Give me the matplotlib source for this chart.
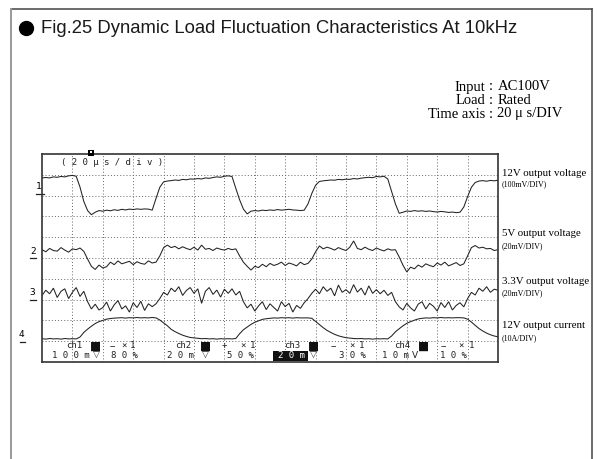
import matplotlib
matplotlib.use("Agg")
import matplotlib.pyplot as plt
from matplotlib.patches import Rectangle
from matplotlib.lines import Line2D
from matplotlib import font_manager as fm
from matplotlib.transforms import blended_transform_factory

# ---------------- data ----------------
title = "Fig.25 Dynamic Load Fluctuation Characteristics At 10kHz"
info_keys = ["Input", "Load", "Time axis"]
info_values = ["AC100V", "Rated", "20 μ s/DIV"]
channel_names = ["12V output voltage", "5V output voltage",
                 "3.3V output voltage", "12V output current"]
channel_scales = ["(100mV/DIV)", "(20mV/DIV)", "(20mV/DIV)", "(10A/DIV)"]
channel_ids = ["1", "2", "3", "4"]
channel_ref_div = [8.1, 5.0, 3.0, 0.98]      # ground markers (screen div)
time_per_div = "( 2 0 μ s / d i v )"

status_ch = ["ch1", "ch2", "ch3", "ch4"]
status_sign = ["−", "+", "−", "−"]
status_probe = ["×", "×", "×", "×"]
status_probe_n = ["1", "1", "1", "1"]
status_volt = ["1 0 0 m", "2 0 m", "2 0 m", "1 0 m"]
status_coupling = ["▽", "▽", "▽", "V"]
status_pos = ["8 0 %", "5 0 %", "3 0 %", "1 0 %"]

# time in microseconds (20 us / div, 15 div)
time_us = [
    0, 2.5, 5, 7.5, 10, 12.5, 15, 17.5, 20, 22.5,
    25, 27.5, 30, 32.5, 35, 37.5, 40, 42.5, 45, 47.5,
    50, 52.5, 55, 57.5, 60, 62.5, 65, 67.5, 70, 72.5,
    75, 77.5, 80, 82.5, 85, 87.5, 90, 92.5, 95, 97.5,
    100, 102.5, 105, 107.5, 110, 112.5, 115, 117.5, 120, 122.5,
    125, 127.5, 130, 132.5, 135, 137.5, 140, 142.5, 145, 147.5,
    150, 152.5, 155, 157.5, 160, 162.5, 165, 167.5, 170, 172.5,
    175, 177.5, 180, 182.5, 185, 187.5, 190, 192.5, 195, 197.5,
    200, 202.5, 205, 207.5, 210, 212.5, 215, 217.5, 220, 222.5,
    225, 227.5, 230, 232.5, 235, 237.5, 240, 242.5, 245, 247.5,
    250, 252.5, 255, 257.5, 260, 262.5, 265, 267.5, 270, 272.5,
    275, 277.5, 280, 282.5, 285, 287.5, 290, 292.5, 295, 297.5,
    300]

# trace positions in screen divisions (0 = bottom, 10 = top)
ch1_12v = [
    8.85, 8.87, 8.85, 8.90, 8.88, 8.92, 8.90, 8.95, 8.97, 8.93,
    8.41, 7.72, 7.28, 7.08, 7.20, 7.28, 7.25, 7.30, 7.27, 7.32,
    7.29, 7.34, 7.31, 7.35, 7.33, 7.36, 7.34, 7.36, 7.35, 7.30,
    7.86, 8.40, 8.66, 8.70, 8.72, 8.75, 8.73, 8.78, 8.76, 8.80,
    8.79, 8.82, 8.80, 8.85, 8.83, 8.87, 8.90, 8.88, 8.93, 8.95,
    8.92, 8.35, 7.80, 7.35, 7.12, 7.25, 7.28, 7.26, 7.30, 7.28,
    7.31, 7.29, 7.33, 7.30, 7.32, 7.34, 7.31, 7.30, 7.28, 7.30,
    7.60, 8.10, 8.50, 8.68, 8.71, 8.73, 8.75, 8.74, 8.78, 8.76,
    8.79, 8.78, 8.82, 8.80, 8.84, 8.86, 8.88, 8.86, 8.92, 8.90,
    8.93, 8.80, 8.20, 7.60, 7.15, 7.20, 7.26, 7.24, 7.28, 7.25,
    7.27, 7.24, 7.26, 7.23, 7.21, 7.24, 7.22, 7.19, 7.21, 7.18,
    7.20, 7.45, 7.95, 8.40, 8.63, 8.70, 8.72, 8.69, 8.73, 8.71,
    8.74]

ch2_5v = [
    5.40, 5.30, 5.46, 5.36, 5.33, 5.50, 5.38, 5.28, 5.44, 5.40,
    5.48, 5.32, 4.95, 4.60, 4.45, 4.66, 4.52, 4.58, 4.80, 4.68,
    4.86, 4.72, 4.78, 4.84, 4.68, 4.82, 4.74, 4.70, 4.86, 4.76,
    4.80, 5.10, 5.50, 5.62, 5.50, 5.56, 5.44, 5.54, 5.46, 5.40,
    5.52, 5.38, 5.62, 5.42, 5.46, 5.36, 5.48, 5.42, 5.38, 5.46,
    5.40, 5.44, 5.10, 4.80, 4.60, 4.42, 4.60, 4.54, 4.70, 4.58,
    4.74, 4.64, 4.70, 4.80, 4.64, 4.76, 4.70, 4.62, 4.80, 4.68,
    4.74, 4.95, 5.30, 5.58, 5.44, 5.52, 5.46, 5.38, 5.50, 5.42,
    5.36, 5.52, 5.82, 5.46, 5.40, 5.52, 5.42, 5.36, 5.48, 5.40,
    5.34, 5.44, 5.38, 5.40, 5.05, 4.65, 4.33, 4.56, 4.48, 4.66,
    4.56, 4.72, 4.64, 4.58, 4.76, 4.66, 4.80, 4.62, 4.70, 4.78,
    4.64, 4.72, 5.10, 5.50, 5.60, 5.48, 5.52, 5.44, 5.46, 5.36,
    5.40]

ch3_3v3 = [
    3.20, 3.45, 3.28, 3.55, 3.10, 3.40, 3.52, 3.05, 3.35, 3.58,
    3.15, 3.40, 2.90, 2.55, 2.78, 2.50, 2.62, 2.88, 2.45, 2.75,
    2.95, 2.55, 2.70, 2.40, 2.85, 2.62, 2.92, 2.48, 2.80, 2.66,
    2.80, 3.05, 3.35, 3.22, 3.55, 3.38, 3.62, 3.20, 3.44, 3.58,
    3.30, 3.52, 2.82, 3.40, 3.58, 3.25, 3.46, 3.12, 3.50, 3.30,
    3.52, 3.22, 3.40, 2.90, 2.60, 2.78, 2.45, 2.70, 2.90, 2.52,
    2.80, 2.62, 2.45, 2.90, 2.66, 2.82, 2.40, 2.72, 2.58, 2.85,
    3.05, 3.30, 3.50, 3.28, 3.62, 3.40, 3.55, 3.18, 3.70, 3.35,
    3.48, 3.30, 3.72, 3.36, 3.55, 3.22, 3.66, 3.30, 3.48, 3.28,
    3.45, 3.20, 3.35, 2.90, 2.65, 2.50, 2.82, 2.60, 2.45, 2.78,
    2.90, 2.55, 2.82, 2.68, 2.45, 2.86, 2.62, 2.90, 2.50, 2.72,
    2.85, 2.65, 3.05, 3.35, 3.22, 3.55, 3.40, 3.62, 3.35, 3.50,
    3.45]

ch4_current = [
    1.12, 1.10, 1.13, 1.11, 1.12, 1.10, 1.13, 1.11, 1.12, 1.11,
    1.20, 1.42, 1.58, 1.72, 1.85, 1.94, 2.00, 2.06, 2.09, 2.11,
    2.12, 2.13, 2.11, 2.13, 2.12, 2.14, 2.12, 2.13, 2.12, 2.14,
    2.12, 2.02, 1.88, 1.74, 1.57, 1.46, 1.37, 1.29, 1.23, 1.18,
    1.16, 1.14, 1.12, 1.13, 1.11, 1.12, 1.10, 1.12, 1.11, 1.12,
    1.11, 1.13, 1.36, 1.55, 1.68, 1.81, 1.91, 1.98, 2.05, 2.08,
    2.10, 2.12, 2.11, 2.13, 2.12, 2.13, 2.11, 2.13, 2.12, 2.12,
    2.12, 2.10, 1.95, 1.80, 1.65, 1.52, 1.42, 1.33, 1.26, 1.21,
    1.17, 1.15, 1.13, 1.12, 1.13, 1.11, 1.12, 1.10, 1.12, 1.11,
    1.12, 1.11, 1.25, 1.45, 1.60, 1.74, 1.86, 1.94, 2.01, 2.07,
    2.10, 2.12, 2.11, 2.13, 2.12, 2.14, 2.12, 2.13, 2.12, 2.13,
    2.13, 2.12, 2.06, 1.92, 1.76, 1.61, 1.49, 1.39, 1.31, 1.25,
    1.21]

traces = [ch1_12v, ch2_5v, ch3_3v3, ch4_current]

# ---------------- layout helpers ----------------
W, H = 598, 459


def fx(x):
    return x / W


def fy(y):
    return 1 - y / H


names = {f.name for f in fm.fontManager.ttflist}
SANS = "Liberation Sans" if "Liberation Sans" in names else "DejaVu Sans"
SERIF = "Liberation Serif" if "Liberation Serif" in names else "DejaVu Serif"
MONO = "DejaVu Sans Mono"

fig = plt.figure(figsize=(W / 100, H / 100), dpi=100)
fig.patch.set_facecolor("white")

# outer frame (open at bottom)
fig.add_artist(Line2D([fx(10.5), fx(592)], [fy(9), fy(9)], color="#444444",
                      lw=1.1, transform=fig.transFigure))
fig.add_artist(Line2D([fx(10.5), fx(10.5)], [fy(9), fy(459)], color="#999999",
                      lw=1.4, transform=fig.transFigure))
fig.add_artist(Line2D([fx(592), fx(592)], [fy(9), fy(459)], color="#444444",
                      lw=1.1, transform=fig.transFigure))

# title
fig.add_artist(Line2D([fx(26)], [fy(28)], marker="o", ms=10, color="black",
                      transform=fig.transFigure))
fig.text(fx(41), fy(28.5), title, family=SANS, fontsize=13.3, ha="left",
         va="center", color="#1a1a1a")

# info block
for i, (k, v) in enumerate(zip(info_keys, info_values)):
    yy = fy(87 + i * 13.5)
    fig.text(fx(485.5), yy, k, family=SERIF, fontsize=10.5, ha="right", va="center")
    fig.text(fx(491), yy, ":", family=SERIF, fontsize=10.5, ha="center", va="center")
    fig.text(fx(497.5), yy, v, family=SERIF, fontsize=10.5, ha="left", va="center")

# scope screen
ax = fig.add_axes([fx(42), fy(362), 456 / W, 208 / H])
ax.set_xlim(0, 300)
ax.set_ylim(0, 10)
ax.set_xticks([20 * k for k in range(1, 15)])
ax.set_yticks(list(range(1, 10)))
ax.tick_params(length=0, labelbottom=False, labelleft=False)
ax.grid(True, color="#666666", linestyle=(0, (1, 2.2)), linewidth=0.7)
for s in ax.spines.values():
    s.set_linewidth(1.2)
    s.set_color("#333333")

for tr in traces:
    ax.plot(time_us, tr, color="#222222", lw=0.75, solid_joinstyle="miter")

# time/div text and trigger marker
fig.text(fx(112), fy(162), time_per_div, family=MONO, fontsize=6.5,
         ha="center", va="center", color="#222222")
fig.add_artist(Rectangle((fx(88), fy(156)), 5.5 / W, 6 / H, transform=fig.transFigure,
                         facecolor="black", edgecolor="none"))
fig.add_artist(Rectangle((fx(89.5), fy(152.5)), 2 / W, 2 / H, transform=fig.transFigure,
                         facecolor="white", edgecolor="none"))

# channel numbers and ground markers left of screen
bt = blended_transform_factory(fig.transFigure, ax.transData)
num_x = [39, 33, 32, 21.5]
tick_x = [(36, 44), (30, 35.5), (30, 35.5), (19.5, 24.5)]
for cid, ref, nx, (t0, t1) in zip(channel_ids, channel_ref_div, num_x, tick_x):
    ax.text(fx(nx), ref + 0.33, cid, transform=bt, family=MONO, fontsize=6.8,
            ha="center", va="center", clip_on=False)
    ax.add_line(Line2D([fx(t0), fx(t1)], [ref, ref], transform=bt, color="#222222",
                       lw=0.9, clip_on=False))

# channel labels right of screen
label_y = [(173, 184.5), (233, 246), (281, 293.5), (326, 338.5)]
for name, scale, (y1, y2) in zip(channel_names, channel_scales, label_y):
    fig.text(fx(502), fy(y1), name, family=SERIF, fontsize=7.8, ha="left", va="center")
    fig.text(fx(502), fy(y2), scale, family=SERIF, fontsize=5.8, ha="left", va="center")

# status lines at bottom of screen
row1_x = [(74, 96, 112, 124, 133), (183, 206, 224, 243, 253),
          (292, 314, 333, 352, 362), (402, 424, 443, 461, 472)]
row2_x = [(71, 96, 124), (180, 205, 240), (291, 313, 352), (395, 415, 453)]
mono_kw = dict(family=MONO, fontsize=6.5, ha="center", va="center", color="#222222")
for i in range(4):
    xs = row1_x[i]
    fig.text(fx(xs[0]), fy(346), status_ch[i], **mono_kw)
    fig.text(fx(xs[1]), fy(346), "■", family="DejaVu Sans", fontsize=8.5,
             ha="center", va="center", color="#111111")
    fig.text(fx(xs[2]), fy(346), status_sign[i], **mono_kw)
    fig.text(fx(xs[3]), fy(346), status_probe[i], **mono_kw)
    fig.text(fx(xs[4]), fy(346), status_probe_n[i], **mono_kw)
    xs2 = row2_x[i]
    if i == 2:
        fig.add_artist(Rectangle((fx(273), fy(360.5)), 35 / W, 10 / H,
                                 transform=fig.transFigure, facecolor="#111111",
                                 edgecolor="none"))
        kw = dict(mono_kw)
        kw["color"] = "white"
        fig.text(fx(xs2[0]), fy(355.5), status_volt[i], **kw)
    else:
        fig.text(fx(xs2[0]), fy(355.5), status_volt[i], **mono_kw)
    fig.text(fx(xs2[1]), fy(355.5), status_coupling[i], family="DejaVu Sans",
             fontsize=6.5, ha="center", va="center", color="#222222")
    fig.text(fx(xs2[2]), fy(355.5), status_pos[i], **mono_kw)

fig.savefig("out.png", dpi=100, facecolor="white")
